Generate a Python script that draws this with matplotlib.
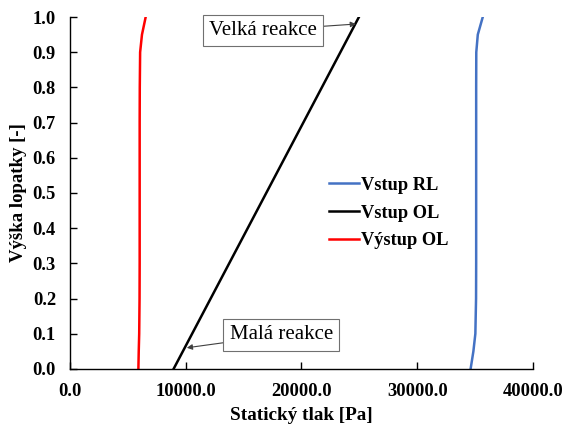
import matplotlib
matplotlib.use("Agg")
import matplotlib.pyplot as plt
from matplotlib.ticker import FormatStrFormatter

# blade height [-]
vyska = [0.0, 0.05, 0.1, 0.2, 0.3, 0.4, 0.5, 0.6, 0.7, 0.8, 0.9, 0.95, 1.0]

# static pressure [Pa]
vstup_rl = [34600, 34840, 35010, 35070, 35080, 35080, 35080, 35080, 35080, 35080, 35090, 35220, 35650]
vstup_ol = [8960, 9760, 10560, 12160, 13760, 15360, 16960, 18560, 20160, 21760, 23360, 24160, 24960]
vystup_ol = [5920, 5950, 5990, 6020, 6030, 6030, 6030, 6030, 6030, 6040, 6070, 6230, 6550]

plt.rcParams['font.family'] = ['Liberation Serif', 'DejaVu Serif']

fig = plt.figure(figsize=(5.63, 4.25), dpi=100)
ax = fig.add_axes([0.124, 0.132, 0.823, 0.828])

ax.plot(vstup_rl, vyska, color='#4472C4', lw=1.8, label='Vstup RL')
ax.plot(vstup_ol, vyska, color='black', lw=1.8, label='Vstup OL')
ax.plot(vystup_ol, vyska, color='#FF0000', lw=1.8, label='Výstup OL')

ax.set_xlim(0, 40000)
ax.set_ylim(0, 1.0)
ax.set_xticks([0, 10000, 20000, 30000, 40000])
ax.set_yticks([i / 10 for i in range(11)])
ax.xaxis.set_major_formatter(FormatStrFormatter('%.1f'))
ax.yaxis.set_major_formatter(FormatStrFormatter('%.1f'))
ax.tick_params(direction='in', length=5, width=1, labelsize=13.3)
ax.tick_params(axis='x', pad=10)
ax.tick_params(axis='y', pad=10)
for lab in ax.get_xticklabels() + ax.get_yticklabels():
    lab.set_fontweight('bold')

ax.spines['top'].set_visible(False)
ax.spines['right'].set_visible(False)
ax.spines['left'].set_linewidth(1)
ax.spines['bottom'].set_linewidth(1)

ax.set_xlabel('Statický tlak [Pa]', fontsize=13.8, fontweight='bold', labelpad=5)
ax.set_ylabel('Výška lopatky [-]', fontsize=13.5, fontweight='bold', labelpad=4)

leg = ax.legend(loc='center left', bbox_to_anchor=(0.56, 0.443), frameon=False,
                prop={'weight': 'bold', 'size': 13.2}, handlelength=1.6,
                handletextpad=0.15, labelspacing=0.58, borderpad=0,
                borderaxespad=0)

box = dict(boxstyle='square,pad=0.3', fc='white', ec='#707070', lw=0.8)
arrow = dict(arrowstyle='-|>', color='#404040', lw=0.8,
             mutation_scale=8, shrinkA=0, shrinkB=0)
ax.annotate('Velká reakce', xy=(24700, 0.98), xytext=(16700, 0.962),
            fontsize=15, bbox=box, ha='center', va='center', arrowprops=arrow)
ax.annotate('Malá reakce', xy=(10100, 0.06), xytext=(18260, 0.097),
            fontsize=15, bbox=box, ha='center', va='center', arrowprops=arrow)

fig.savefig('out.png', dpi=100)
